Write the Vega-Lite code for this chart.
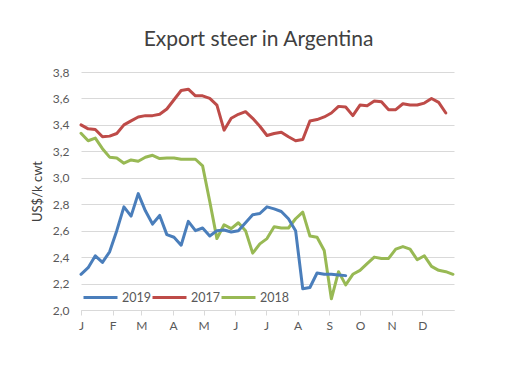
{
  "$schema": "https://vega.github.io/schema/vega-lite/v6.json",
  "width": 373,
  "height": 238,
  "autosize": {"type": "none"},
  "padding": {"left": 81, "top": 72, "right": 72, "bottom": 62},
  "background": "white",
  "title": {"text": "Export steer in Argentina", "font": "Lato", "fontSize": 21, "fontWeight": "normal", "color": "#404040", "offset": 16, "dx": -9},
  "data": {"values": [
    {"date":"2019-01-01","year":"2017","price":3.40},{"date":"2019-01-08","year":"2017","price":3.37},{"date":"2019-01-15","year":"2017","price":3.365},{"date":"2019-01-22","year":"2017","price":3.31},{"date":"2019-01-29","year":"2017","price":3.315},{"date":"2019-02-05","year":"2017","price":3.335},{"date":"2019-02-12","year":"2017","price":3.40},{"date":"2019-02-19","year":"2017","price":3.43},{"date":"2019-02-26","year":"2017","price":3.46},{"date":"2019-03-05","year":"2017","price":3.47},{"date":"2019-03-12","year":"2017","price":3.47},{"date":"2019-03-19","year":"2017","price":3.48},{"date":"2019-03-26","year":"2017","price":3.52},{"date":"2019-04-02","year":"2017","price":3.59},{"date":"2019-04-09","year":"2017","price":3.66},{"date":"2019-04-16","year":"2017","price":3.67},{"date":"2019-04-23","year":"2017","price":3.62},{"date":"2019-04-30","year":"2017","price":3.62},{"date":"2019-05-07","year":"2017","price":3.60},{"date":"2019-05-14","year":"2017","price":3.55},{"date":"2019-05-21","year":"2017","price":3.36},{"date":"2019-05-28","year":"2017","price":3.45},{"date":"2019-06-04","year":"2017","price":3.48},{"date":"2019-06-11","year":"2017","price":3.50},{"date":"2019-06-18","year":"2017","price":3.45},{"date":"2019-06-25","year":"2017","price":3.39},{"date":"2019-07-02","year":"2017","price":3.32},{"date":"2019-07-09","year":"2017","price":3.335},{"date":"2019-07-16","year":"2017","price":3.345},{"date":"2019-07-23","year":"2017","price":3.31},{"date":"2019-07-30","year":"2017","price":3.28},{"date":"2019-08-06","year":"2017","price":3.29},{"date":"2019-08-13","year":"2017","price":3.43},{"date":"2019-08-20","year":"2017","price":3.44},{"date":"2019-08-27","year":"2017","price":3.46},{"date":"2019-09-03","year":"2017","price":3.49},{"date":"2019-09-10","year":"2017","price":3.54},{"date":"2019-09-17","year":"2017","price":3.535},{"date":"2019-09-24","year":"2017","price":3.47},{"date":"2019-10-01","year":"2017","price":3.55},{"date":"2019-10-08","year":"2017","price":3.545},{"date":"2019-10-15","year":"2017","price":3.58},{"date":"2019-10-22","year":"2017","price":3.575},{"date":"2019-10-29","year":"2017","price":3.515},{"date":"2019-11-05","year":"2017","price":3.515},{"date":"2019-11-12","year":"2017","price":3.56},{"date":"2019-11-19","year":"2017","price":3.55},{"date":"2019-11-26","year":"2017","price":3.55},{"date":"2019-12-03","year":"2017","price":3.565},{"date":"2019-12-10","year":"2017","price":3.60},{"date":"2019-12-17","year":"2017","price":3.57},{"date":"2019-12-24","year":"2017","price":3.49},
    {"date":"2019-01-01","year":"2018","price":3.337},{"date":"2019-01-08","year":"2018","price":3.28},{"date":"2019-01-15","year":"2018","price":3.30},{"date":"2019-01-22","year":"2018","price":3.22},{"date":"2019-01-29","year":"2018","price":3.156},{"date":"2019-02-05","year":"2018","price":3.15},{"date":"2019-02-12","year":"2018","price":3.11},{"date":"2019-02-19","year":"2018","price":3.135},{"date":"2019-02-26","year":"2018","price":3.125},{"date":"2019-03-05","year":"2018","price":3.155},{"date":"2019-03-12","year":"2018","price":3.17},{"date":"2019-03-19","year":"2018","price":3.145},{"date":"2019-03-26","year":"2018","price":3.15},{"date":"2019-04-02","year":"2018","price":3.15},{"date":"2019-04-09","year":"2018","price":3.14},{"date":"2019-04-16","year":"2018","price":3.14},{"date":"2019-04-23","year":"2018","price":3.14},{"date":"2019-04-30","year":"2018","price":3.09},{"date":"2019-05-07","year":"2018","price":2.82},{"date":"2019-05-14","year":"2018","price":2.54},{"date":"2019-05-21","year":"2018","price":2.645},{"date":"2019-05-28","year":"2018","price":2.615},{"date":"2019-06-04","year":"2018","price":2.66},{"date":"2019-06-11","year":"2018","price":2.60},{"date":"2019-06-18","year":"2018","price":2.43},{"date":"2019-06-25","year":"2018","price":2.50},{"date":"2019-07-02","year":"2018","price":2.54},{"date":"2019-07-09","year":"2018","price":2.63},{"date":"2019-07-16","year":"2018","price":2.62},{"date":"2019-07-23","year":"2018","price":2.62},{"date":"2019-07-30","year":"2018","price":2.69},{"date":"2019-08-06","year":"2018","price":2.74},{"date":"2019-08-13","year":"2018","price":2.56},{"date":"2019-08-20","year":"2018","price":2.55},{"date":"2019-08-27","year":"2018","price":2.45},{"date":"2019-09-03","year":"2018","price":2.085},{"date":"2019-09-10","year":"2018","price":2.29},{"date":"2019-09-17","year":"2018","price":2.19},{"date":"2019-09-24","year":"2018","price":2.27},{"date":"2019-10-01","year":"2018","price":2.30},{"date":"2019-10-08","year":"2018","price":2.35},{"date":"2019-10-15","year":"2018","price":2.40},{"date":"2019-10-22","year":"2018","price":2.39},{"date":"2019-10-29","year":"2018","price":2.39},{"date":"2019-11-05","year":"2018","price":2.46},{"date":"2019-11-12","year":"2018","price":2.48},{"date":"2019-11-19","year":"2018","price":2.46},{"date":"2019-11-26","year":"2018","price":2.38},{"date":"2019-12-03","year":"2018","price":2.41},{"date":"2019-12-10","year":"2018","price":2.33},{"date":"2019-12-17","year":"2018","price":2.30},{"date":"2019-12-24","year":"2018","price":2.29},{"date":"2019-12-31","year":"2018","price":2.27},
    {"date":"2019-01-01","year":"2019","price":2.27},{"date":"2019-01-08","year":"2019","price":2.32},{"date":"2019-01-15","year":"2019","price":2.41},{"date":"2019-01-22","year":"2019","price":2.36},{"date":"2019-01-29","year":"2019","price":2.44},{"date":"2019-02-05","year":"2019","price":2.60},{"date":"2019-02-12","year":"2019","price":2.78},{"date":"2019-02-19","year":"2019","price":2.71},{"date":"2019-02-26","year":"2019","price":2.88},{"date":"2019-03-05","year":"2019","price":2.75},{"date":"2019-03-12","year":"2019","price":2.65},{"date":"2019-03-19","year":"2019","price":2.715},{"date":"2019-03-26","year":"2019","price":2.57},{"date":"2019-04-02","year":"2019","price":2.55},{"date":"2019-04-09","year":"2019","price":2.49},{"date":"2019-04-16","year":"2019","price":2.67},{"date":"2019-04-23","year":"2019","price":2.60},{"date":"2019-04-30","year":"2019","price":2.62},{"date":"2019-05-07","year":"2019","price":2.56},{"date":"2019-05-14","year":"2019","price":2.60},{"date":"2019-05-21","year":"2019","price":2.605},{"date":"2019-05-28","year":"2019","price":2.59},{"date":"2019-06-04","year":"2019","price":2.60},{"date":"2019-06-11","year":"2019","price":2.66},{"date":"2019-06-18","year":"2019","price":2.72},{"date":"2019-06-25","year":"2019","price":2.73},{"date":"2019-07-02","year":"2019","price":2.78},{"date":"2019-07-09","year":"2019","price":2.765},{"date":"2019-07-16","year":"2019","price":2.745},{"date":"2019-07-23","year":"2019","price":2.69},{"date":"2019-07-30","year":"2019","price":2.60},{"date":"2019-08-06","year":"2019","price":2.16},{"date":"2019-08-13","year":"2019","price":2.17},{"date":"2019-08-20","year":"2019","price":2.28},{"date":"2019-08-27","year":"2019","price":2.27},{"date":"2019-09-03","year":"2019","price":2.27},{"date":"2019-09-10","year":"2019","price":2.265},{"date":"2019-09-17","year":"2019","price":2.26}
  ]},
  "mark": {"type": "line", "strokeWidth": 3, "strokeJoin": "round", "strokeCap": "round"},
  "encoding": {
    "x": {
      "field": "date", "type": "temporal",
      "scale": {"type": "utc", "domain": [{"year": 2019, "month": 1, "date": 1, "utc": true}, {"year": 2020, "month": 1, "date": 1, "utc": true}]},
      "axis": {
        "title": null, "grid": false,
        "values": [
          {"year": 2019, "month": 1, "date": 1, "utc": true}, {"year": 2019, "month": 2, "date": 1, "utc": true}, {"year": 2019, "month": 3, "date": 1, "utc": true}, {"year": 2019, "month": 4, "date": 1, "utc": true},
          {"year": 2019, "month": 5, "date": 1, "utc": true}, {"year": 2019, "month": 6, "date": 1, "utc": true}, {"year": 2019, "month": 7, "date": 1, "utc": true}, {"year": 2019, "month": 8, "date": 1, "utc": true},
          {"year": 2019, "month": 9, "date": 1, "utc": true}, {"year": 2019, "month": 10, "date": 1, "utc": true}, {"year": 2019, "month": 11, "date": 1, "utc": true}, {"year": 2019, "month": 12, "date": 1, "utc": true}
        ],
        "labelExpr": "substring(utcFormat(datum.value, '%b'), 0, 1)",
        "domainColor": "#d9d9d9", "tickColor": "#d9d9d9", "tickSize": 5,
        "labelFont": "Lato", "labelFontSize": 12, "labelColor": "#595959", "labelPadding": 5, "labelFlush": false
      }
    },
    "y": {
      "field": "price", "type": "quantitative",
      "scale": {"domain": [2.0, 3.8], "nice": false, "zero": false},
      "axis": {
        "title": "US$/k cwt", "titleFont": "Lato", "titleFontSize": 13, "titleFontWeight": "normal", "titleColor": "#404040", "titlePadding": 8,
        "values": [2.0, 2.2, 2.4, 2.6, 2.8, 3.0, 3.2, 3.4, 3.6, 3.8],
        "labelExpr": "replace(format(datum.value, '.1f'), '.', ',')",
        "labelFont": "Lato", "labelFontSize": 12, "labelColor": "#595959", "labelPadding": 12,
        "domain": false, "ticks": false, "grid": true, "gridColor": "#d9d9d9"
      }
    },
    "color": {
      "field": "year", "type": "nominal",
      "scale": {"domain": ["2019", "2017", "2018"], "range": ["#4a7ebb", "#be4b48", "#98b954"]},
      "legend": {
        "title": null, "orient": "none", "legendX": 1, "legendY": 207, "direction": "horizontal",
        "symbolType": "stroke", "symbolSize": 1156, "symbolStrokeWidth": 3,
        "labelFont": "Lato", "labelFontSize": 12.5, "labelColor": "#595959", "labelOffset": 3, "columnPadding": -11
      }
    }
  },
  "config": {"view": {"stroke": null}}
}
